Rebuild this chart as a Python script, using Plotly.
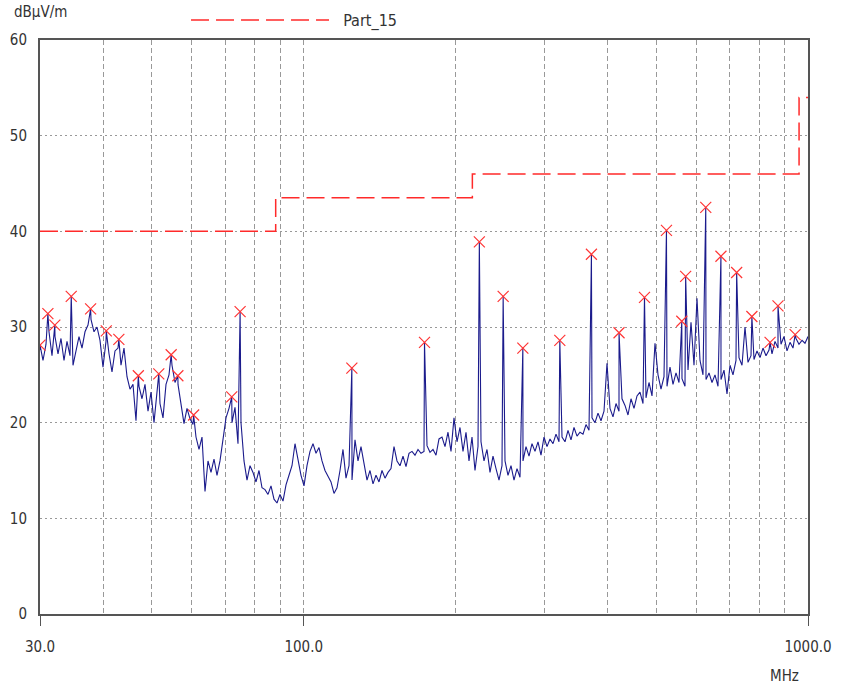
import numpy as np
import plotly.graph_objects as go

# measured level (dBuV/m) on the receiver sweep, 30 MHz .. 1 GHz, log steps
sweep_levels = [
    27.6, 26.5, 28.2, 29.5, 27.0, 29.0, 27.2, 28.8, 26.5, 28.5,
    27.0, 26.0, 27.5, 29.0, 27.8, 29.5, 30.2, 30.8, 29.5, 30.0,
    28.6, 25.8, 28.5, 27.2, 25.3, 27.5, 27.8, 26.0, 27.8, 24.8,
    23.5, 24.0, 20.2, 23.8, 22.5, 24.0, 21.2, 23.2, 20.0, 23.5,
    22.0, 20.5, 24.0, 25.0, 26.0, 24.2, 24.0, 22.0, 19.9, 21.5,
    20.4, 19.8, 18.5, 17.2, 18.5, 12.8, 16.0, 14.8, 16.2, 14.5,
    16.0, 18.5, 20.5, 21.5, 20.0, 21.6, 17.8, 20.0, 16.0, 14.0,
    15.5, 14.8, 13.8, 15.0, 13.2, 13.0, 12.5, 13.4, 12.0, 11.6,
    12.5, 11.8, 13.5, 14.5, 15.5, 17.8, 16.0, 14.5, 13.4, 15.5,
    17.0, 17.8, 16.8, 17.4, 16.0, 15.0, 14.4, 13.8, 12.6, 13.2,
    15.0, 17.2, 14.2, 15.5, 14.0, 18.2, 16.0, 17.5, 15.5, 14.0,
    15.0, 13.6, 14.5, 13.8, 15.0, 14.2, 14.8, 15.2, 17.5, 16.0,
    15.5, 16.5, 15.4, 16.8, 17.0, 16.6, 17.2, 16.8, 17.0, 17.6,
    16.9, 17.2, 16.6, 18.3, 18.5, 17.5, 19.0, 17.0, 20.5, 18.0,
    19.5, 17.0, 19.0, 16.0, 18.5, 15.0, 17.5, 18.0, 16.0, 17.2,
    14.8, 16.5, 15.2, 14.0, 15.5, 16.0, 14.5, 15.5, 14.0, 15.2,
    14.3, 16.0, 17.5, 16.5, 17.8, 17.0, 18.0, 16.6, 18.5, 17.5,
    18.3, 17.8, 18.8, 18.0, 18.5, 18.0, 19.2, 18.2, 19.5, 18.6,
    19.0, 18.8, 19.8, 19.2, 20.5, 20.0, 21.0, 20.2, 21.2, 26.2,
    21.5, 20.6, 22.0, 21.2, 22.5, 21.8, 20.8, 22.5, 21.5, 22.8,
    23.2, 22.0, 22.6, 24.2, 22.8, 28.3, 25.0, 23.5, 24.8, 23.8,
    25.8, 24.0, 25.2, 24.2, 24.6, 23.8, 25.5, 30.5, 26.0, 33.0,
    26.5, 25.0, 24.5, 25.2, 24.2, 25.0, 23.8, 24.5, 25.5, 23.0,
    26.0, 25.0, 26.5, 26.8, 26.0, 30.0, 26.3, 27.0, 26.6, 27.5,
    26.8, 27.8, 27.0, 27.6, 27.2, 28.5, 27.8, 28.2, 29.0, 27.5,
    28.4, 27.8, 28.8, 28.2, 28.6, 28.3, 29.0,
]

# peak search results (red crosses)
peak_mhz = [30.0, 31.1, 32.1, 34.6, 37.8, 40.6, 43.0, 47.0, 51.6, 54.6,
            56.3, 60.5, 72.0, 74.8, 124.6, 173.6, 223.0, 248.6, 272.0, 322.0,
            372.0, 422.0, 474.0, 524.0, 562.0, 572.0, 627.0, 672.0, 722.0, 774.0,
            841.0, 872.0, 943.0]
peak_dbuv = [28.1, 31.4, 30.2, 33.2, 31.9, 29.6, 28.7, 24.9, 25.1, 27.1,
             24.9, 20.8, 22.7, 31.6, 25.7, 28.4, 38.9, 33.2, 27.8, 28.6,
             37.6, 29.4, 33.1, 40.1, 30.6, 35.3, 42.5, 37.4, 35.7, 31.1,
             28.4, 32.2, 29.2]

# FCC Part 15 limit
limit_mhz = [30, 88, 216, 960, 1000]
limit_dbuv = [40, 43.5, 46, 54, 54]

sweep_mhz = np.geomspace(30, 1000, len(sweep_levels))

# put the peak readings into the sweep so the spikes show up
trace = sorted(list(zip(sweep_mhz, sweep_levels)) + list(zip(peak_mhz, peak_dbuv)))
trace_f = [t[0] for t in trace]
trace_v = [t[1] for t in trace]

font_name = "Liberation Sans Narrow, Arial Narrow, DejaVu Sans Condensed, Liberation Sans, sans-serif"

fig = go.Figure()

fig.add_trace(go.Scatter(x=limit_mhz, y=limit_dbuv, mode='lines', line_shape='hv',
                         line=dict(color='#ff2a2a', width=1.5, dash='18px,7px'),
                         name='\u00a0\u00a0Part_15'))

fig.add_trace(go.Scatter(x=trace_f, y=trace_v, mode='lines',
                         line=dict(color='#1b1b8c', width=1.1),
                         showlegend=False, hoverinfo='x+y'))

fig.add_trace(go.Scatter(x=peak_mhz, y=peak_dbuv, mode='markers',
                         marker=dict(symbol='x-thin', size=11,
                                     line=dict(color='#ff3535', width=1.2)),
                         showlegend=False))

fig.update_xaxes(type='log', range=[np.log10(30), 3], automargin=False,
                 tickvals=[30, 100, 1000], ticktext=['30.0', '100.0', '1000.0'],
                 ticks='outside', ticklen=10, tickcolor='#555', ticklabelstandoff=8,
                 showline=True, linecolor='#555', linewidth=2, mirror=True,
                 showgrid=True, gridcolor='#999', griddash='5px,3px', gridwidth=1,
                 minor=dict(tickvals=[40, 50, 60, 70, 80, 90, 200, 300, 400, 500,
                                      600, 700, 800, 900],
                            showgrid=True, gridcolor='#999', griddash='5px,3px',
                            ticks=''),
                 zeroline=False)

fig.update_yaxes(range=[0, 60], tickvals=[0, 10, 20, 30, 40, 50, 60], automargin=False,
                 ticks='', ticklabelstandoff=8,
                 showline=True, linecolor='#555', linewidth=2, mirror=True,
                 showgrid=True, gridcolor='#999', griddash='2px,3px', gridwidth=1,
                 zeroline=False)

fig.add_annotation(text='dBμV/m', xref='paper', yref='paper', x=0, y=1,
                   xanchor='left', yanchor='middle', xshift=-28, yshift=28,
                   showarrow=False, font=dict(size=15, color='#333', family=font_name))
fig.add_annotation(text='MHz', xref='paper', yref='paper', x=0.97, y=0,
                   xanchor='center', yanchor='middle', yshift=-62,
                   showarrow=False, font=dict(size=15, color='#333', family=font_name))

fig.update_layout(
    width=844, height=689,
    margin=dict(l=40, r=36, t=40, b=75),
    plot_bgcolor='white', paper_bgcolor='white',
    font=dict(family=font_name, size=15, color='#333'),
    showlegend=True,
    legend=dict(orientation='h', xref='container', yref='container',
                x=0.2204, y=0.971, xanchor='left', yanchor='middle',
                itemwidth=138, font=dict(size=16), bgcolor='rgba(0,0,0,0)'),
)

# drop the default page margin so the figure sits at the window corner
fig.write_html("out.html", config={'displayModeBar': False},
               post_script="document.body.style.margin='0';document.body.style.overflow='hidden';")
